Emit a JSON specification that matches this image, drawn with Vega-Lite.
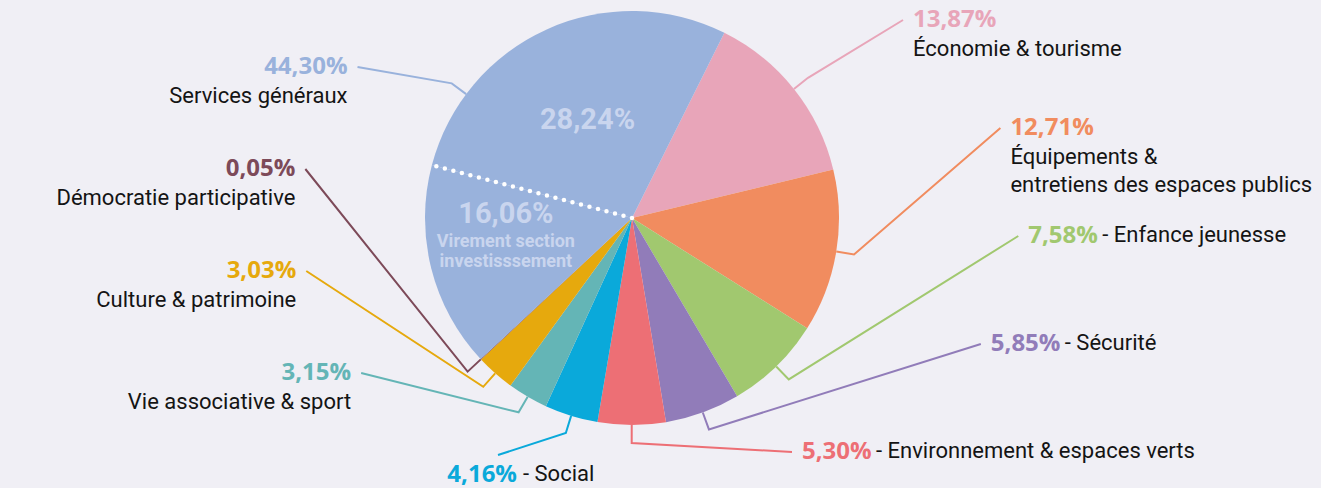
{
  "$schema": "https://vega.github.io/schema/vega-lite/v6.json",
  "width": 1321,
  "height": 488,
  "autosize": {"type": "none"},
  "padding": 0,
  "background": "#f0eff5",
  "config": {"view": {"stroke": null}},
  "data": {
    "values": [
      {"poste": "Économie & tourisme", "sousPoste": "", "value": 13.87},
      {"poste": "Équipements &\nentretiens des espaces publics", "sousPoste": "", "value": 12.71},
      {"poste": "Enfance jeunesse", "sousPoste": "", "value": 7.58},
      {"poste": "Sécurité", "sousPoste": "", "value": 5.85},
      {"poste": "Environnement & espaces verts", "sousPoste": "", "value": 5.30},
      {"poste": "Social", "sousPoste": "", "value": 4.16},
      {"poste": "Vie associative & sport", "sousPoste": "", "value": 3.15},
      {"poste": "Culture & patrimoine", "sousPoste": "", "value": 3.03},
      {"poste": "Démocratie participative", "sousPoste": "", "value": 0.05},
      {"poste": "Services généraux", "sousPoste": "Virement section\ninvestisssement", "value": 16.06},
      {"poste": "Services généraux", "sousPoste": "Autres services généraux", "value": 28.24}
    ]
  },
  "transform": [
    {"window": [{"op": "row_number", "as": "idx"}]},
    {"joinaggregate": [{"op": "sum", "field": "value", "as": "total"}]},
    {"window": [{"op": "sum", "field": "value", "as": "cumSub"}], "sort": [{"field": "idx"}], "frame": [null, 0]}
  ],
  "layer": [
    {
      "mark": {"type": "arc", "outerRadius": 207},
      "encoding": {
        "x": {"datum": 0, "type": "quantitative", "scale": {"domain": [-632, 689], "nice": false, "zero": false}, "axis": null},
        "y": {"datum": 0, "type": "quantitative", "scale": {"domain": [-218, 270], "nice": false, "zero": false, "reverse": true}, "axis": null},
        "theta": {"field": "value", "type": "quantitative", "stack": true, "scale": {"range": [0.46251, 6.74570]}},
        "order": {"field": "idx", "type": "quantitative"},
        "color": {
          "field": "poste", "type": "nominal", "legend": null,
          "scale": {
            "domain": ["Économie & tourisme", "Équipements &\nentretiens des espaces publics", "Enfance jeunesse", "Sécurité", "Environnement & espaces verts", "Social", "Vie associative & sport", "Culture & patrimoine", "Démocratie participative", "Services généraux"],
            "range": ["#e8a5b9", "#f18c5f", "#a1c86f", "#917cb9", "#ed6f75", "#0aa9da", "#64b5b6", "#e6a90d", "#7d4a59", "#99b2dc"]
          }
        }
      }
    },
    {
      "transform": [
        {"filter": {"field": "sousPoste", "equal": "Virement section\ninvestisssement"}},
        {"calculate": "0.46251 + 2*PI*datum.cumSub/datum.total", "as": "b"},
        {"calculate": "[0, 207*sin(datum.b)]", "as": "px"},
        {"calculate": "[0, -207*cos(datum.b)]", "as": "py"},
        {"calculate": "[0, 1]", "as": "pt"},
        {"flatten": ["px", "py", "pt"]}
      ],
      "mark": {"type": "line", "color": "#ffffff", "strokeWidth": 4.5, "strokeDash": [0, 8.8], "strokeCap": "round"},
      "encoding": {
        "x": {"field": "px", "type": "quantitative", "scale": {"domain": [-632, 689], "nice": false, "zero": false}, "axis": null},
        "y": {"field": "py", "type": "quantitative", "scale": {"domain": [-218, 270], "nice": false, "zero": false, "reverse": true}, "axis": null},
        "order": {"field": "pt", "type": "quantitative"}
      }
    },
    {
      "transform": [
        {"filter": {"field": "poste", "equal": "Services généraux"}},
        {"calculate": "datum.sousPoste == 'Virement section\\ninvestisssement'", "as": "vir"},
        {"calculate": "0.46251 + 2*PI*(datum.cumSub - datum.value/2)/datum.total", "as": "am"},
        {"calculate": "(datum.vir ? 130 : 108)*sin(datum.am)", "as": "ix"},
        {"calculate": "-(datum.vir ? 130 : 108)*cos(datum.am)", "as": "iy"},
        {"calculate": "replace(format(datum.value, '.2f'), '.', ',') + '%'", "as": "ipct"}
      ],
      "layer": [
        {
          "transform": [{"calculate": "datum.vir ? datum.iy - 36 : datum.iy", "as": "ipy"}],
          "mark": {"type": "text", "align": "center", "baseline": "middle", "font": "Roboto", "fontWeight": "bold", "fontSize": 29, "color": "#c9d5ee"},
          "encoding": {
            "x": {"field": "ix", "type": "quantitative", "scale": {"domain": [-632, 689], "nice": false, "zero": false}, "axis": null},
            "y": {"field": "ipy", "type": "quantitative", "scale": {"domain": [-218, 270], "nice": false, "zero": false, "reverse": true}, "axis": null},
            "text": {"field": "ipct", "type": "nominal"}
          }
        },
        {
          "transform": [
            {"filter": "datum.vir"},
            {"calculate": "datum.iy - 17", "as": "idy"}
          ],
          "mark": {"type": "text", "align": "center", "baseline": "top", "lineBreak": "\n", "lineHeight": 20, "font": "Roboto", "fontWeight": "bold", "fontSize": 18, "color": "#c9d5ee"},
          "encoding": {
            "x": {"field": "ix", "type": "quantitative", "scale": {"domain": [-632, 689], "nice": false, "zero": false}, "axis": null},
            "y": {"field": "idy", "type": "quantitative", "scale": {"domain": [-218, 270], "nice": false, "zero": false, "reverse": true}, "axis": null},
            "text": {"field": "sousPoste", "type": "nominal"}
          }
        }
      ]
    },
    {
      "transform": [
        {"aggregate": [{"op": "sum", "field": "value", "as": "v"}, {"op": "min", "field": "idx", "as": "pidx"}, {"op": "max", "field": "total", "as": "tot"}], "groupby": ["poste"]},
        {"window": [{"op": "sum", "field": "v", "as": "cum"}], "sort": [{"field": "pidx"}], "frame": [null, 0]},
        {"calculate": "0.46251 + 2*PI*(datum.cum - datum.v/2)/datum.tot", "as": "a"},
        {"calculate": "sin(datum.a) > -0.05 ? 'R' : 'L'", "as": "side"},
        {"calculate": "-cos(datum.a)", "as": "ey"},
        {"window": [{"op": "row_number", "as": "k"}], "groupby": ["side"], "sort": [{"field": "ey"}]},
        {"calculate": "datum.side == 'R' ? -198 + 108*(datum.k - 1) : -151 + 102*(datum.k - 1)", "as": "ly"},
        {"calculate": "datum.side == 'R' ? sqrt(max(0, 227*227 - datum.ly*datum.ly)) + 170 : -(sqrt(max(0, 227*227 - datum.ly*datum.ly)) + 115)", "as": "lx"},
        {"calculate": "datum.v >= 4 && datum.v < 8", "as": "single"},
        {"calculate": "replace(format(datum.v, '.2f'), '.', ',') + '%'", "as": "pct"}
      ],
      "layer": [
        {
          "transform": [
            {"calculate": "datum.side == 'R' ? datum.lx - 10 : (datum.single ? datum.lx - 19 : datum.lx + 10)", "as": "endx"},
            {"calculate": "datum.side == 'L' && datum.single ? datum.ly - 20 : datum.ly", "as": "endy"},
            {"calculate": "[207*sin(datum.a), 225*sin(datum.a), datum.endx]", "as": "lxs"},
            {"calculate": "[-207*cos(datum.a), -225*cos(datum.a), datum.endy]", "as": "lys"},
            {"calculate": "[0, 1, 2]", "as": "lpt"},
            {"flatten": ["lxs", "lys", "lpt"]}
          ],
          "mark": {"type": "line", "strokeWidth": 2},
          "encoding": {
            "x": {"field": "lxs", "type": "quantitative", "scale": {"domain": [-632, 689], "nice": false, "zero": false}, "axis": null},
            "y": {"field": "lys", "type": "quantitative", "scale": {"domain": [-218, 270], "nice": false, "zero": false, "reverse": true}, "axis": null},
            "order": {"field": "lpt", "type": "quantitative"},
            "detail": {"field": "poste", "type": "nominal"},
            "color": {"field": "poste", "type": "nominal", "legend": null}
          }
        },
        {
          "transform": [{"filter": "datum.side == 'R'"}],
          "mark": {"type": "text", "align": "left", "baseline": "middle", "font": "Open Sans", "fontWeight": "bold", "fontSize": 24},
          "encoding": {
            "x": {"field": "lx", "type": "quantitative", "scale": {"domain": [-632, 689], "nice": false, "zero": false}, "axis": null},
            "y": {"field": "ly", "type": "quantitative", "scale": {"domain": [-218, 270], "nice": false, "zero": false, "reverse": true}, "axis": null},
            "text": {"field": "pct", "type": "nominal"},
            "color": {"field": "poste", "type": "nominal", "legend": null}
          }
        },
        {
          "transform": [
            {"filter": "datum.side == 'R'"},
            {"calculate": "datum.single ? datum.lx + 74 : datum.lx", "as": "nx"},
            {"calculate": "datum.single ? datum.ly - 11 : datum.ly + 19", "as": "ny"},
            {"calculate": "datum.single ? '- ' + datum.poste : datum.poste", "as": "nt"}
          ],
          "mark": {"type": "text", "align": "left", "baseline": "top", "lineBreak": "\n", "lineHeight": 28, "font": "Roboto", "fontSize": 22, "color": "#141414"},
          "encoding": {
            "x": {"field": "nx", "type": "quantitative", "scale": {"domain": [-632, 689], "nice": false, "zero": false}, "axis": null},
            "y": {"field": "ny", "type": "quantitative", "scale": {"domain": [-218, 270], "nice": false, "zero": false, "reverse": true}, "axis": null},
            "text": {"field": "nt", "type": "nominal"}
          }
        },
        {
          "transform": [{"filter": "datum.side == 'L'"}],
          "mark": {"type": "text", "align": "right", "baseline": "middle", "font": "Open Sans", "fontWeight": "bold", "fontSize": 24},
          "encoding": {
            "x": {"field": "lx", "type": "quantitative", "scale": {"domain": [-632, 689], "nice": false, "zero": false}, "axis": null},
            "y": {"field": "ly", "type": "quantitative", "scale": {"domain": [-218, 270], "nice": false, "zero": false, "reverse": true}, "axis": null},
            "text": {"field": "pct", "type": "nominal"},
            "color": {"field": "poste", "type": "nominal", "legend": null}
          }
        },
        {
          "transform": [
            {"filter": "datum.side == 'L' && !datum.single"},
            {"calculate": "datum.ly + 19", "as": "ny"}
          ],
          "mark": {"type": "text", "align": "right", "baseline": "top", "lineBreak": "\n", "lineHeight": 28, "font": "Roboto", "fontSize": 22, "color": "#141414"},
          "encoding": {
            "x": {"field": "lx", "type": "quantitative", "scale": {"domain": [-632, 689], "nice": false, "zero": false}, "axis": null},
            "y": {"field": "ny", "type": "quantitative", "scale": {"domain": [-218, 270], "nice": false, "zero": false, "reverse": true}, "axis": null},
            "text": {"field": "poste", "type": "nominal"}
          }
        },
        {
          "transform": [
            {"filter": "datum.side == 'L' && datum.single"},
            {"calculate": "datum.lx + 6", "as": "nx"},
            {"calculate": "datum.ly - 11", "as": "ny"},
            {"calculate": "'- ' + datum.poste", "as": "nt"}
          ],
          "mark": {"type": "text", "align": "left", "baseline": "top", "font": "Roboto", "fontSize": 22, "color": "#141414"},
          "encoding": {
            "x": {"field": "nx", "type": "quantitative", "scale": {"domain": [-632, 689], "nice": false, "zero": false}, "axis": null},
            "y": {"field": "ny", "type": "quantitative", "scale": {"domain": [-218, 270], "nice": false, "zero": false, "reverse": true}, "axis": null},
            "text": {"field": "nt", "type": "nominal"}
          }
        }
      ]
    }
  ]
}
